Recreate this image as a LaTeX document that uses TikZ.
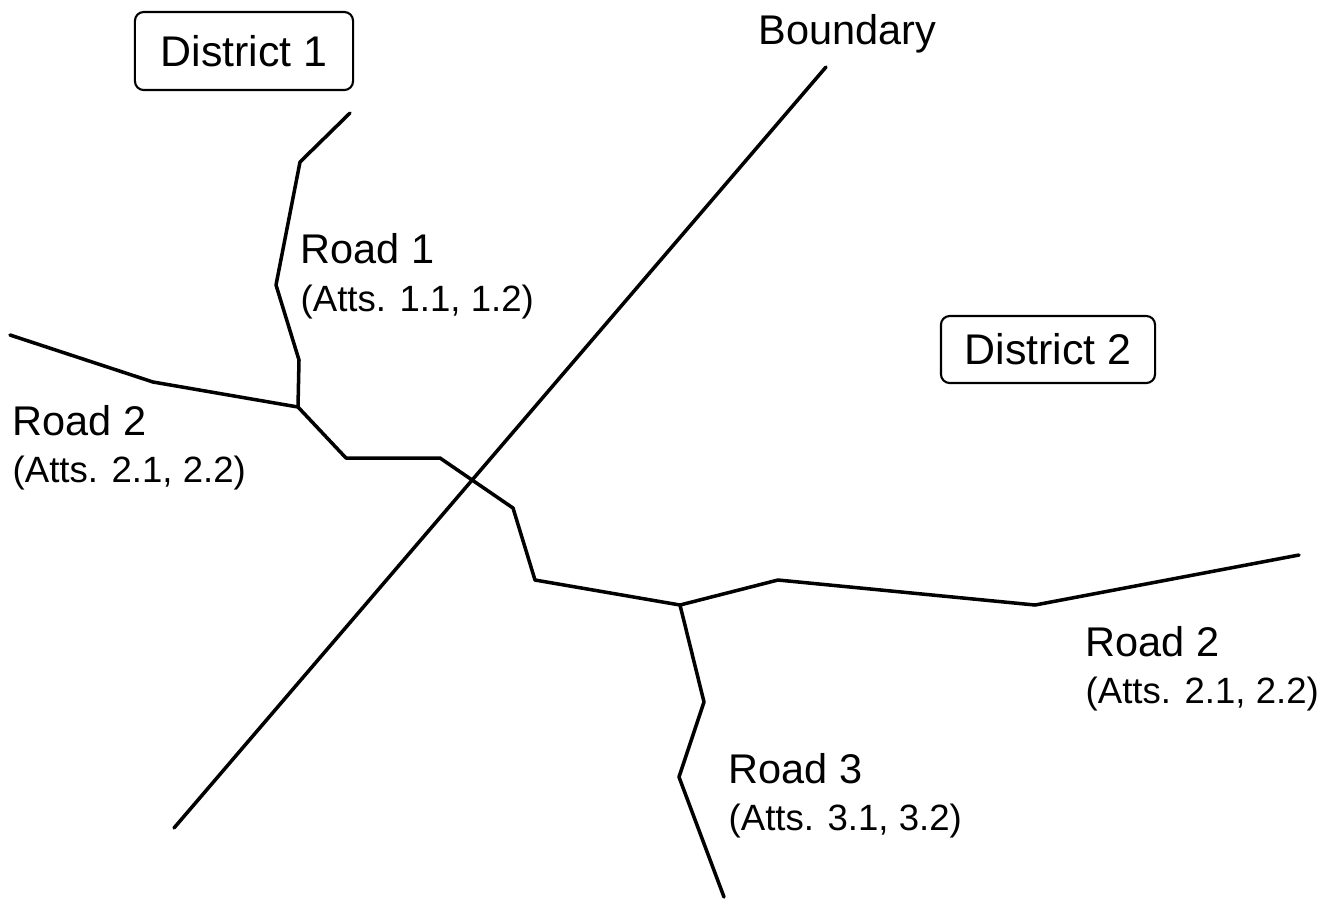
\documentclass[tikz,border=0pt]{standalone}
\usepackage{fontspec}
\setmainfont{Liberation Sans}
\begin{document}
\begin{tikzpicture}[x=0.01cm,y=-0.01cm,
  road/.style={line width=1pt,line join=round,line cap=round},
  big/.style={font=\fontsize{11.8}{14}\selectfont,inner sep=0pt,anchor=base west},
  atts/.style={font=\fontsize{10.4}{13}\selectfont,inner sep=0pt,anchor=base west},
  district/.style={draw,line width=0.6pt,rounded corners=2.5pt,inner sep=0pt,
    font=\fontsize{12.2}{14}\selectfont}]
\useasboundingbox (0,0) rectangle (1321,899);
% coordinates
\coordinate (r1a) at (350,113);
\coordinate (r1b) at (300,162);
\coordinate (r1c) at (276,285);
\coordinate (r1d) at (299,360);
\coordinate (j1) at (298,407);
\coordinate (r2a) at (10,335);
\coordinate (r2b) at (153,382);
\coordinate (r2c) at (346,458);
\coordinate (r2d) at (440,458);
\coordinate (r2e) at (513,508);
\coordinate (r2f) at (535,580);
\coordinate (j2) at (680,605);
\coordinate (r2g) at (778,580);
\coordinate (r2h) at (1035,605);
\coordinate (r2i) at (1299,555);
\coordinate (r3a) at (704,702);
\coordinate (r3b) at (679,777);
\coordinate (r3c) at (724,897);
\coordinate (b1) at (826,67);
\coordinate (b2) at (174,828);
% roads
\draw[road] (r1a) -- (r1b) -- (r1c) -- (r1d) -- (j1);
\draw[road] (r2a) -- (r2b) -- (j1) -- (r2c) -- (r2d) -- (r2e) -- (r2f) -- (j2) -- (r2g) -- (r2h) -- (r2i);
\draw[road] (j2) -- (r3a) -- (r3b) -- (r3c);
\draw[road] (b1) -- (b2);
% districts
\node[district,minimum width=2.18cm,minimum height=0.78cm] (d1) at (244,51) {District 1};
\node[district,minimum width=2.14cm,minimum height=0.67cm] (d2) at (1048,349.5) {District 2};
% labels
\node[big] (lb) at (758,44) {Boundary};
\node[big] (l1) at (300,263) {Road 1};
\node[atts] (a1) at (300,311) {(Atts. 1.1, 1.2)};
\node[big] (l2) at (12,435) {Road 2};
\node[atts] (a2) at (12,482) {(Atts. 2.1, 2.2)};
\node[big] (l2r) at (1085,656) {Road 2};
\node[atts] (a2r) at (1085,703) {(Atts. 2.1, 2.2)};
\node[big] (l3) at (728,783) {Road 3};
\node[atts] (a3) at (728,830) {(Atts. 3.1, 3.2)};
\end{tikzpicture}
\end{document}
